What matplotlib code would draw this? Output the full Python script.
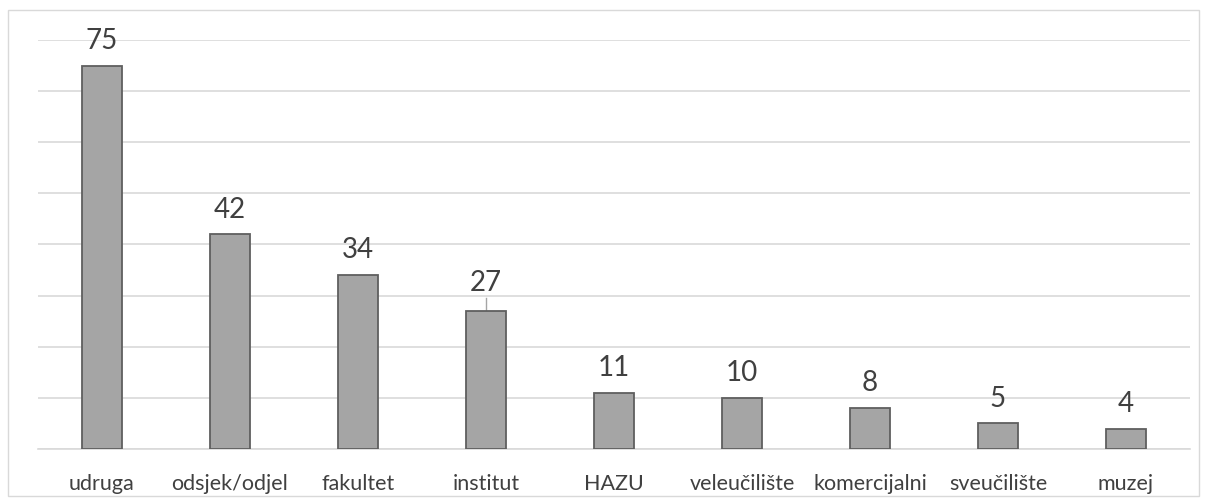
import matplotlib
matplotlib.use('Agg')
import matplotlib.pyplot as plt
from matplotlib.patches import Rectangle

categories = ['udruga', 'odsjek/odjel', 'fakultet', 'institut', 'HAZU',
              'veleučilište', 'komercijalni', 'sveučilište', 'muzej']
values = [75, 42, 34, 27, 11, 10, 8, 5, 4]

plt.rcParams['font.family'] = ['Lato', 'DejaVu Sans']
txt = '#404040'

fig = plt.figure(figsize=(12.08, 5.04), dpi=100)
ax = fig.add_axes([38/1208, 55/504, 1152/1208, 409/504])

x = range(len(categories))
ax.bar(x, values, width=0.32, color='#a5a5a5', edgecolor='#5f5f5f', linewidth=1.3, zorder=3)

# labels, the one for 27 sits higher with a leader line
for i, v in enumerate(values):
    if v == 27:
        ax.plot([i, i], [v, v + 2.6], color='#a5a5a5', lw=1, zorder=2)
        ax.text(i, v + 2.9, str(v), ha='center', va='bottom', fontsize=20, color=txt)
    else:
        ax.text(i, v + 2.3, str(v), ha='center', va='bottom', fontsize=20, color=txt)

ax.set_xlim(-0.5, len(categories) - 0.5)
ax.set_ylim(0, 80)
ax.set_yticks(range(0, 81, 10))
ax.yaxis.grid(True, color='#d9d9d9', lw=1.2, zorder=0)
ax.tick_params(axis='y', left=False, labelleft=False)
ax.tick_params(axis='x', length=0, pad=18, labelsize=15.5, labelcolor=txt)
ax.set_xticks(list(x))
ax.set_xticklabels(categories)
for s in ['top', 'right', 'left']:
    ax.spines[s].set_visible(False)
ax.spines['bottom'].set_color('#d9d9d9')
ax.spines['bottom'].set_linewidth(1.2)

fig.patches.append(Rectangle((8/1208, 1 - 496/504), 1191/1208, 486/504,
                             transform=fig.transFigure, fill=False,
                             edgecolor='#d9d9d9', lw=1))

fig.savefig('out.png', dpi=100)
